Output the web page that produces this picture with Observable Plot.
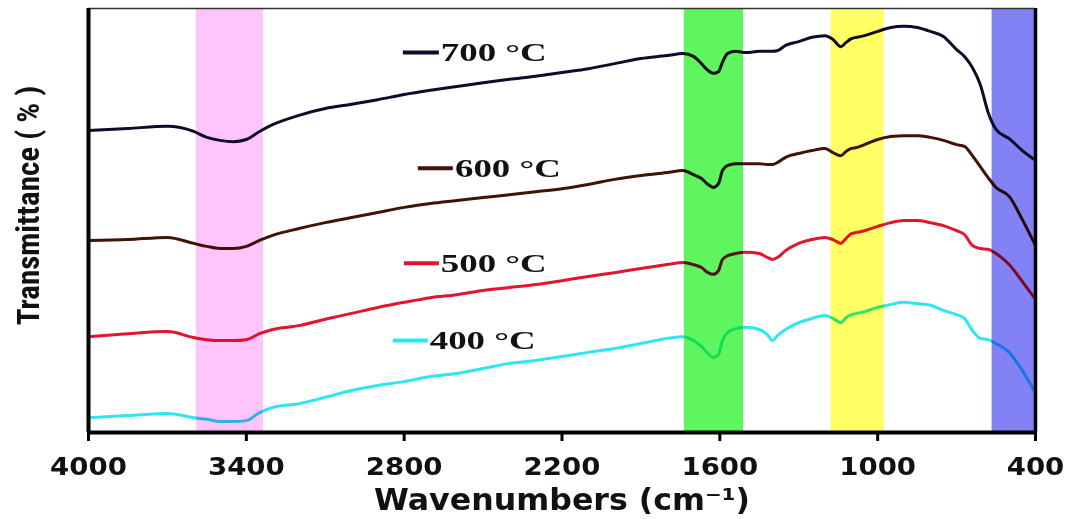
<!DOCTYPE html>
<html>
<head>
<meta charset="utf-8">
<script src="https://cdn.jsdelivr.net/npm/d3@7"></script>
<script src="https://cdn.jsdelivr.net/npm/@observablehq/plot@0.6"></script>
<style>
  html, body { margin: 0; padding: 0; background: #fff; }
  #chart svg { display: block; }
</style>
</head>
<body>
<div id="chart"></div>
<script>
// Wavenumbers (cm-1) at which the spectra were read
const wavenumbers = [4000,3850,3700,3600,3550,3500,3450,3400,3350,3300,
  3200,3100,3000,2900,2800,2700,2600,2500,2400,2300,
  2200,2100,2000,1900,1800,1740,1700,1670,1645,1625,
  1605,1590,1570,1540,1500,1450,1420,1400,1380,1350,
  1300,1250,1200,1170,1140,1120,1100,1080,1050,1000,
  950,900,850,800,750,700,670,640,610,580,
  550,500,450,400];

// Transmittance (arbitrary %, offset spectra)
const t700 = [71.2,71.7,72.2,71.0,69.6,68.9,68.6,69.1,71.0,72.6,
  74.8,76.4,77.4,78.5,79.7,80.7,81.6,82.5,83.3,84.0,
  84.9,85.8,87.0,88.2,88.9,89.4,88.7,87.0,85.4,84.7,
  85.1,87.3,89.4,89.9,89.6,89.9,89.9,89.9,90.1,91.3,
  92.2,93.2,93.6,92.7,91.0,92.0,92.9,93.2,93.6,94.6,
  95.5,95.8,95.5,94.6,93.4,90.3,88.7,86.1,82.1,75.5,
  71.5,69.3,66.5,64.2];
const t600 = [45.3,45.5,46.0,44.6,43.9,43.4,43.4,43.9,45.3,46.5,
  48.1,49.5,50.7,51.9,53.1,54.0,54.7,55.4,56.1,56.8,
  57.5,58.5,59.7,60.6,61.3,61.8,60.8,59.9,58.5,57.8,
  58.7,61.8,63.0,63.4,63.4,63.4,63.2,63.2,63.7,64.9,
  65.8,66.5,67.0,66.0,65.3,66.3,67.0,67.2,67.9,69.1,
  69.8,70.0,70.0,69.6,68.9,67.9,67.5,65.3,62.7,60.1,
  57.8,55.7,50.2,44.1];
const t500 = [22.6,23.3,23.8,22.4,21.9,21.7,21.7,21.9,23.3,24.3,
  25.2,26.7,28.1,29.5,30.7,31.8,32.5,33.5,34.2,34.9,
  35.8,36.8,37.7,38.7,39.6,40.1,39.6,38.9,37.7,37.3,
  38.2,40.8,41.7,42.2,42.5,42.2,41.3,40.8,41.3,42.9,
  44.6,45.5,46.0,45.5,44.6,45.8,46.9,47.2,47.6,48.6,
  49.5,50.0,50.0,49.5,48.8,47.6,46.7,44.1,43.4,43.2,
  42.2,39.6,35.6,31.4];
const t400 = [3.5,4.0,4.5,3.5,3.1,2.6,2.6,2.8,4.7,5.9,
  6.8,8.3,9.9,11.1,12.0,13.2,13.9,15.1,16.3,17.0,
  17.9,18.9,19.8,21.0,22.2,22.6,21.7,20.3,18.6,17.7,
  18.4,21.7,23.6,24.5,24.8,24.3,23.1,21.7,22.9,24.3,
  25.9,26.9,27.6,26.9,25.9,27.1,27.8,28.1,28.5,29.5,
  30.2,30.7,30.4,30.0,28.8,27.8,26.9,24.1,22.2,21.9,
  21.0,18.9,14.6,9.4];

const seriesNames = ["700 °C", "600 °C", "500 °C", "400 °C"];
const seriesValues = [t700, t600, t500, t400];
const seriesColors = ["#0d0d2b", "#401307", "#e3142e", "#2ee6f0"];

// Highlighted absorption bands (cm-1)
const bandFrom = [3590, 1735, 1177, 565];
const bandTo   = [3335, 1510, 975, 400];
const bandColors = ["#ffc4f9", "#5ef55e", "#ffff66", "#8282f5"];

const xTicks = [4000, 3400, 2800, 2200, 1600, 1000, 400];

// Legend layout (data coordinates)
const legendDashFrom = [2805, 2748, 2801, 2843];
const legendDashTo   = [2668, 2615, 2668, 2710];
const legendTextX    = [2661, 2607, 2661, 2703];
const legendY        = [89.6, 62.3, 39.9, 21.7];

const rows = [];
seriesNames.forEach((s, k) => {
  wavenumbers.forEach((w, i) => rows.push({series: s, w, t: seriesValues[k][i]}));
});
const bands = bandFrom.map((a, i) => ({a, b: bandTo[i], c: bandColors[i]}));
const legend = seriesNames.map((s, i) => ({
  s, x1: legendDashFrom[i], x2: legendDashTo[i], tx: legendTextX[i], y: legendY[i], c: seriesColors[i]
}));

const chart = Plot.plot({
  width: 1070,
  height: 519,
  marginLeft: 88,
  marginRight: 35,
  marginTop: 8,
  marginBottom: 87,
  style: {fontFamily: "DejaVu Sans", background: "#fff"},
  x: {domain: [4000, 400]},
  y: {domain: [0, 100], axis: null},
  color: {domain: seriesNames, range: seriesColors},
  marks: [
    Plot.line(rows, {x: "w", y: "t", z: "series", stroke: "series", strokeWidth: 3, curve: "monotone-x"}),
    Plot.rect(bands, {x1: "a", x2: "b", fill: "c", mixBlendMode: "multiply"}),
    Plot.link(legend, {x1: "x1", x2: "x2", y1: "y", y2: "y", stroke: "c", strokeWidth: 4}),
    Plot.text(legend, {x: "tx", y: "y", text: "s", textAnchor: "start", lineAnchor: "middle",
      fontFamily: "Liberation Serif", fontWeight: "bold", fontSize: 26, fill: "#111"}),
    Plot.ruleY([100], {stroke: "#333", strokeWidth: 1.5}),
    Plot.ruleY([0], {stroke: "#000", strokeWidth: 4}),
    Plot.ruleX([4000], {stroke: "#000", strokeWidth: 4}),
    Plot.ruleX([400], {stroke: "#000", strokeWidth: 3.5}),
    Plot.axisX({ticks: xTicks, tickSize: 9, tickPadding: 16, strokeWidth: 3, stroke: "#000",
      fontSize: 25, fontWeight: "bold", fontFamily: "DejaVu Sans", fill: "#111", label: null, tickFormat: d => String(d)}),
    Plot.text(["Wavenumbers (cm\u207B\u00B9)"], {frameAnchor: "bottom", dy: 68, lineAnchor: "middle",
      fontSize: 30, fontWeight: "bold", fontFamily: "DejaVu Sans", fill: "#111"}),
    Plot.text(["Transmittance ( % )"], {frameAnchor: "left", rotate: -90, dx: -59, dy: -15, lineAnchor: "middle",
      textAnchor: "middle",
      fontSize: 31, fontWeight: "bold", fontFamily: "Liberation Sans Narrow, Roboto Condensed, Open Sans, sans-serif", fill: "#111"})
  ]
});

// Stretch text widths to match the reference proportions
chart.querySelectorAll("text").forEach(t => {
  const s = t.textContent;
  if (/°C/.test(s)) { t.setAttribute("textLength", 106); t.setAttribute("lengthAdjust", "spacingAndGlyphs"); }
  else if (/^\d+$/.test(s)) { t.setAttribute("textLength", 19.2 * s.length); t.setAttribute("lengthAdjust", "spacingAndGlyphs"); }
  else if (/^Wavenumbers/.test(s)) { t.setAttribute("textLength", 376); t.setAttribute("lengthAdjust", "spacingAndGlyphs"); }
});

document.getElementById("chart").appendChild(chart);
</script>
</body>
</html>
